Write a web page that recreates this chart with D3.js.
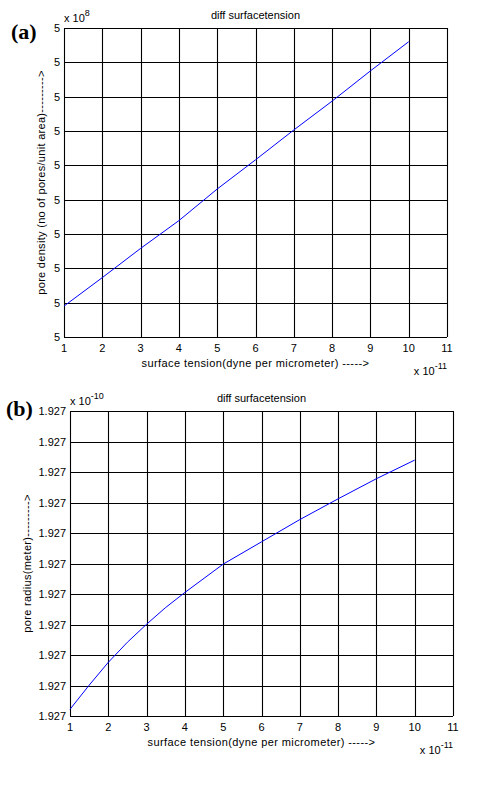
<!DOCTYPE html>
<html>
<head>
<meta charset="utf-8">
<script src="https://cdn.jsdelivr.net/npm/d3@7"></script>
<style>
  body { margin: 0; background: #fff; }
  text { font-family: "Liberation Sans", Arial, sans-serif; fill: #000; }
</style>
</head>
<body>
<svg id="chart" width="500" height="787"></svg>
<script>
// x axis: surface tension (x 10^-11)
var xTicks = [1, 2, 3, 4, 5, 6, 7, 8, 9, 10, 11];

var tensionA = [1, 2, 3, 4, 5, 6, 7, 8, 9, 10];
var densityA = [0.90, 1.73, 2.58, 3.39, 4.31, 5.16, 6.03, 6.87, 7.75, 8.60];
var yTicksA = [0, 1, 2, 3, 4, 5, 6, 7, 8, 9];
var yLabelsA = ["5", "5", "5", "5", "5", "5", "5", "5", "5", "5"];

// (b) pore radius, same idea
var tensionB = [1, 1.5, 2, 2.5, 3, 3.5, 4, 5, 6, 7, 8, 9, 10];
var radiusB = [0.22, 1.01, 1.76, 2.42, 3.01, 3.56, 4.05, 4.98, 5.71, 6.44, 7.12, 7.78, 8.39];
var yTicksB = [0, 1, 2, 3, 4, 5, 6, 7, 8, 9, 10];
var yLabelsB = ["1.927", "1.927", "1.927", "1.927", "1.927", "1.927", "1.927", "1.927", "1.927", "1.927", "1.927"];

var svg = d3.select("#chart");

function draw_panel(opt) {
  var x = d3.scaleLinear().domain([1, 11]).range([opt.left, opt.right]);
  var y = d3.scaleLinear().domain(d3.extent(opt.yTicks)).range([opt.bottom, opt.top]);
  var g = svg.append("g");

  // grid
  g.selectAll(".vg").data(xTicks).enter().append("line")
    .attr("x1", function(d) { return Math.round(x(d)) + 0.5; })
    .attr("x2", function(d) { return Math.round(x(d)) + 0.5; })
    .attr("y1", opt.top).attr("y2", opt.bottom)
    .attr("stroke", "#000").attr("stroke-width", 1.1);
  g.selectAll(".hg").data(opt.yTicks).enter().append("line")
    .attr("y1", function(d) { return Math.round(y(d)) + 0.5; })
    .attr("y2", function(d) { return Math.round(y(d)) + 0.5; })
    .attr("x1", opt.left).attr("x2", opt.right)
    .attr("stroke", "#000").attr("stroke-width", 1.1);

  // tick labels
  g.selectAll(".xt").data(xTicks).enter().append("text")
    .attr("x", function(d) { return x(d); })
    .attr("y", opt.bottom + 15)
    .attr("text-anchor", "middle")
    .style("font-size", "11px")
    .text(function(d) { return d; });
  g.selectAll(".yt").data(opt.yTicks).enter().append("text")
    .attr("x", opt.left - 4)
    .attr("y", function(d) { return y(d) + 4; })
    .attr("text-anchor", "end")
    .style("font-size", "11px")
    .text(function(d, i) { return opt.yLabels[i]; });

  // the curve
  g.append("path")
    .datum(d3.zip(opt.xs, opt.ys))
    .attr("fill", "none")
    .attr("stroke", "#0000ff")
    .attr("stroke-width", 1)
    .attr("d", d3.line()
      .x(function(d) { return x(d[0]); })
      .y(function(d) { return y(d[1]); }));

  // title
  g.append("text")
    .attr("x", (opt.left + opt.right) / 2)
    .attr("y", opt.top - 9)
    .attr("text-anchor", "middle")
    .style("font-size", "11px")
    .text("diff surfacetension");

  // y exponent
  var ex = g.append("text")
    .attr("x", opt.left).attr("y", opt.top - 6)
    .style("font-size", "11px");
  ex.append("tspan").text("x 10");
  ex.append("tspan").attr("dy", -6).style("font-size", "9px").text(opt.yExp);

  // x exponent
  var xx = g.append("text")
    .attr("x", opt.right).attr("y", opt.bottom + 38)
    .attr("text-anchor", "end")
    .style("font-size", "11px");
  xx.append("tspan").text("x 10");
  xx.append("tspan").attr("dy", -6).style("font-size", "9px").text("-11");

  // axis labels
  g.append("text")
    .attr("x", (opt.left + opt.right) / 2)
    .attr("y", opt.bottom + 30)
    .attr("text-anchor", "middle")
    .style("font-size", "11px")
    .style("letter-spacing", "0.4px")
    .text("surface tension(dyne per micrometer) ----->");
  g.append("text")
    .attr("transform", "translate(" + opt.yLabelX + "," + ((opt.top + opt.bottom) / 2) + ") rotate(-90)")
    .attr("text-anchor", "middle")
    .style("font-size", "11px")
    .style("letter-spacing", "0.3px")
    .text(opt.yLabel);

  // panel letter
  g.append("text")
    .attr("x", opt.letterX).attr("y", opt.letterY)
    .style("font-family", "'Liberation Serif', 'Times New Roman', serif")
    .style("font-weight", "bold")
    .style("font-size", "22px")
    .text(opt.letter);
}

draw_panel({
  left: 64, right: 447, top: 28, bottom: 337,
  xs: tensionA, ys: densityA, yTicks: yTicksA, yLabels: yLabelsA,
  yExp: "8", yLabelX: 45,
  yLabel: "pore density (no of pores/unit area)--------->",
  letter: "(a)", letterX: 11, letterY: 39
});

draw_panel({
  left: 70, right: 453, top: 411, bottom: 716,
  xs: tensionB, ys: radiusB, yTicks: yTicksB, yLabels: yLabelsB,
  yExp: "-10", yLabelX: 31,
  yLabel: "pore radius(meter)--------->",
  letter: "(b)", letterX: 6, letterY: 416
});
</script>
</body>
</html>
